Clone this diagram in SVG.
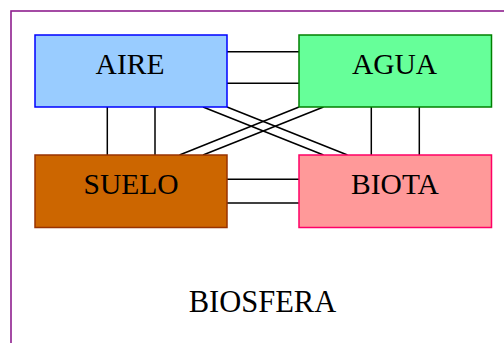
<svg xmlns="http://www.w3.org/2000/svg" width="504" height="343" viewBox="0 0 504 343">
<style>
.lbl{font-family:"Liberation Serif","Times New Roman",serif;font-size:29.5px;fill:#000;text-anchor:middle}
.box{stroke-width:1.5}
.c{stroke:#000;stroke-width:1.5;fill:none}
</style>
<rect x="0" y="0" width="504" height="343" fill="#fff"/>
<g id="biosfera">
<rect x="11" y="11" width="520" height="360" fill="none" stroke="#8e1f8e" stroke-width="1.6"/>
<text class="lbl" x="262.5" y="311.7" style="font-size:30.5px">BIOSFERA</text>
</g>
<g id="connectors">
<line class="c" x1="227" y1="51.7" x2="299" y2="51.7"/>
<line class="c" x1="227" y1="83.3" x2="299" y2="83.3"/>
<line class="c" x1="227" y1="179.3" x2="299" y2="179.3"/>
<line class="c" x1="227" y1="203" x2="299" y2="203"/>
<line class="c" x1="107.3" y1="107" x2="107.3" y2="155"/>
<line class="c" x1="155" y1="107" x2="155" y2="155"/>
<line class="c" x1="371.3" y1="107" x2="371.3" y2="155"/>
<line class="c" x1="419.3" y1="107" x2="419.3" y2="155"/>
<line class="c" x1="203" y1="107" x2="323.5" y2="155"/>
<line class="c" x1="227" y1="107" x2="347.5" y2="155"/>
<line class="c" x1="179.5" y1="155" x2="299" y2="107"/>
<line class="c" x1="203" y1="155" x2="323.5" y2="107"/>
</g>
<g id="aire">
<rect class="box" x="35" y="35" width="192" height="72" fill="#99ccff" stroke="#0000ff"/>
<text class="lbl" x="130" y="73.5">AIRE</text>
</g>
<g id="agua">
<rect class="box" x="299" y="35" width="192.5" height="72" fill="#66ff99" stroke="#008000"/>
<text class="lbl" x="394.5" y="74">AGUA</text>
</g>
<g id="suelo">
<rect class="box" x="35" y="155" width="192" height="72.5" fill="#cc6600" stroke="#993300"/>
<text class="lbl" x="131" y="194.3">SUELO</text>
</g>
<g id="biota">
<rect class="box" x="299" y="155" width="192.5" height="72.5" fill="#ff9999" stroke="#ff0066"/>
<text class="lbl" x="395" y="194.3">BIOTA</text>
</g>
</svg>
